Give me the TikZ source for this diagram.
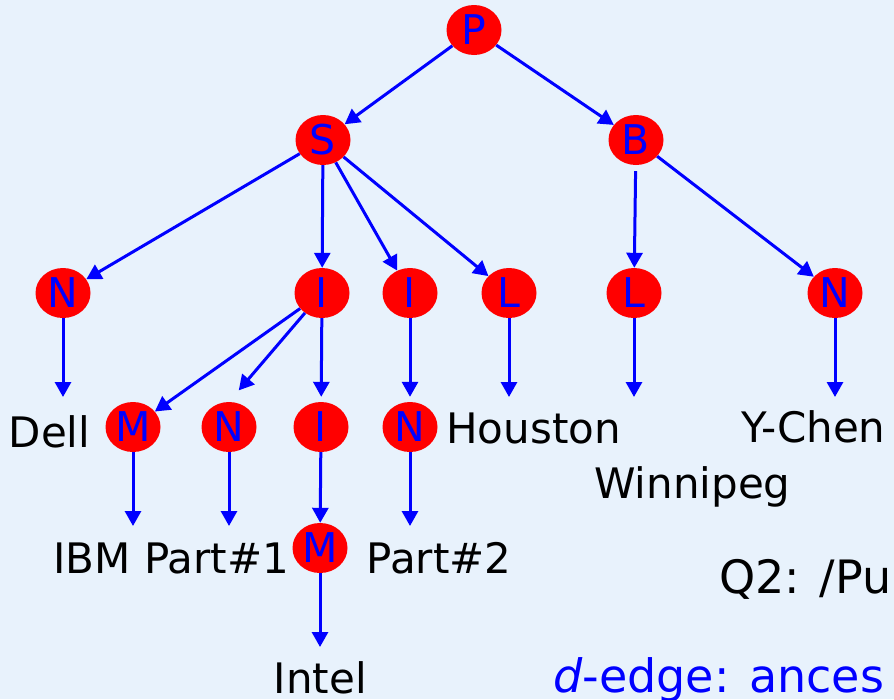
\documentclass[tikz,border=0pt]{standalone}
\usepackage{fontspec}
\setmainfont{DejaVu Sans}
\usetikzlibrary{arrows.meta,shapes.geometric}
\definecolor{bg}{RGB}{232,242,252}
\definecolor{nodered}{RGB}{255,0,0}
\definecolor{edgeblue}{RGB}{0,0,255}
\begin{document}
\begin{tikzpicture}[x=1pt,y=-1pt,
  tn/.style={ellipse,fill=nodered,draw=none,minimum width=55pt,minimum height=50pt,inner sep=0pt,text=edgeblue,font=\fontsize{41}{41}\selectfont},
  lbl/.style={anchor=base west,inner sep=0pt,font=\fontsize{42}{42}\selectfont},
  biglbl/.style={anchor=base west,inner sep=0pt,font=\fontsize{46}{46}\selectfont},
  arr/.style={draw=edgeblue,line width=3pt,-{Triangle[length=15pt,width=16pt]}}
]
\useasboundingbox (0,0) rectangle (894,699);
\clip (0,0) rectangle (894,699);
\fill[bg] (0,0) rectangle (894,699);

% tree nodes
\node[tn] (P) at (474,30) {P};
\node[tn] (S) at (323,140) {S};
\node[tn] (B) at (636,140) {B};
\node[tn] (N1) at (63,293) {N};
\node[tn] (I1) at (322,293) {I};
\node[tn] (I2) at (410,293) {I};
\node[tn] (L1) at (509,293) {L};
\node[tn] (L2) at (634,293) {L};
\node[tn] (N2) at (835,293) {N};
\node[tn] (M1) at (133,427) {M};
\node[tn] (N3) at (229,427) {N};
\node[tn] (I3) at (321,427) {I};
\node[tn] (N4) at (410,427) {N};
\node[tn] (M2) at (320,548) {M};

% text labels
\node[lbl] (dell) at (8.5,447) {Dell};
\node[lbl] (houston) at (446,443) {Houston};
\node[lbl] (ychen) at (741,442) {Y-Chen};
\node[lbl] (winnipeg) at (594,498) {Winnipeg};
\node[lbl] (ibm) at (53,573) {IBM};
\node[lbl] (part1) at (144,573) {Part\#1};
\node[lbl] (part2) at (366.5,573) {Part\#2};
\node[lbl] (intel) at (273.5,693) {Intel};
\node[biglbl] (q2) at (719,593) {Q2: /Pu};
\node[biglbl,text=edgeblue] (dedge) at (553,692) {\textit{d}-edge: ances};

% arrow tips towards text labels
\coordinate (tDell) at (63,397);
\coordinate (tHou) at (509,397);
\coordinate (tWin) at (634,397);
\coordinate (tYC) at (835,397);
\coordinate (tIBM) at (133,526);
\coordinate (tP1) at (229,526);
\coordinate (tP2) at (410,526);
\coordinate (tIntel) at (320,647);

% edges
\draw[arr] (P) -- (S);
\draw[arr] (P) -- (B);
\draw[arr] (S) -- (N1);
\draw[arr] (S) -- (I1);
\draw[arr] (S) -- (I2);
\draw[arr] (S) -- (L1);
\draw[arr,shorten <=6pt] (B) -- (L2);
\draw[arr] (B) -- (N2);
\draw[arr] (I1) -- (M1);
\draw[arr,shorten >=15pt] (I1) -- (N3.north);
\draw[arr,shorten >=5pt] (I1) -- (I3);
\draw[arr,shorten >=5pt] (I2) -- (N4);
\draw[arr] (I3) -- (M2);
\draw[arr] (N1) -- (tDell);
\draw[arr] (L1) -- (tHou);
\draw[arr] (L2) -- (tWin);
\draw[arr] (N2) -- (tYC);
\draw[arr] (M1) -- (tIBM);
\draw[arr] (N3) -- (tP1);
\draw[arr] (N4) -- (tP2);
\draw[arr] (M2) -- (tIntel);
\end{tikzpicture}
\end{document}
